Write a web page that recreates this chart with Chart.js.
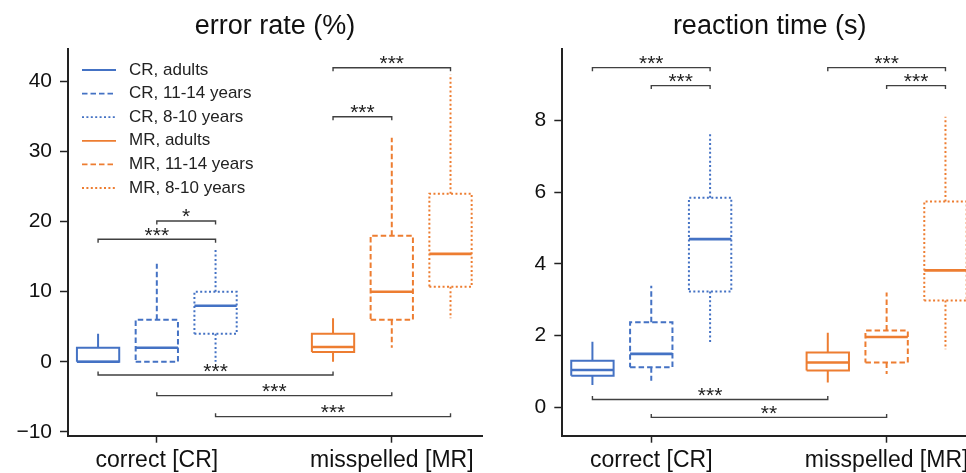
<!DOCTYPE html>
<html>
<head>
<meta charset="utf-8">
<script src="https://cdn.jsdelivr.net/npm/chart.js@4.4.1/dist/chart.umd.min.js"></script>
<style>
  html, body { margin: 0; padding: 0; background: #fff; overflow: hidden; }
  body { width: 966px; height: 473px; position: relative; }
  canvas { position: absolute; top: 0; }
  #errChart { left: 0; }
  #rtChart { left: 483px; }
</style>
</head>
<body>
<canvas id="errChart" width="483" height="473"></canvas>
<canvas id="rtChart" width="495" height="473"></canvas>
<script>
// categories and groups (3 age groups per category)
const categories = ["correct [CR]", "misspelled [MR]"];
const groupLabels = ["CR, adults", "CR, 11-14 years", "CR, 8-10 years", "MR, adults", "MR, 11-14 years", "MR, 8-10 years"];

// error rate (%) box stats
const errMin = [0, 0, 0, 0, 2, 6.2];
const errQ1 = [0, 0, 4, 1.4, 6, 10.7];
const errMedian = [0, 2, 8, 2.1, 10, 15.4];
const errQ3 = [2, 6, 10, 4, 18, 24];
const errMax = [4, 14, 16, 6.2, 32, 41];
const errTicks = [-10, 0, 10, 20, 30, 40];

// reaction time (s) box stats
const rtMin = [0.62, 0.74, 1.79, 0.69, 0.93, 1.62];
const rtQ1 = [0.88, 1.12, 3.23, 1.03, 1.25, 2.98];
const rtMedian = [1.04, 1.49, 4.69, 1.25, 1.96, 3.82];
const rtQ3 = [1.3, 2.37, 5.84, 1.53, 2.14, 5.74];
const rtMax = [1.83, 3.39, 7.67, 2.08, 3.2, 8.1];
const rtTicks = [0, 2, 4, 6, 8];

// significance brackets: compared groups, stars, bracket value
const errPairs = [[3, 5], [3, 4], [1, 2], [0, 2], [0, 3], [1, 4], [2, 5]];
const errStars = ["***", "***", "*", "***", "***", "***", "***"];
const errLevels = [42, 35, 20.1, 17.5, -1.9, -4.85, -7.85];
const rtPairs = [[0, 2], [1, 2], [3, 5], [4, 5], [0, 3], [1, 4]];
const rtStars = ["***", "***", "***", "***", "***", "**"];
const rtLevels = [9.47, 8.97, 9.47, 8.97, 0.22, -0.28];

const FONT = "'Liberation Sans', Arial, sans-serif";
const BLUE = "#4472c4";
const ORANGE = "#ed7d31";
const DASHES = [[], [5.5, 3], [2, 2.4]];
const HALF_BOX = 0.09;

// x position of a group: category centre +- offset per age group
function groupX(g) {
  return Math.floor(g / 3) + ((g % 3) - 1) * 0.25;
}

// Box outline, whiskers and median as line datasets
function buildDatasets(mins, q1s, meds, q3s, maxs) {
  const sets = [];
  groupLabels.forEach((label, g) => {
    const c = groupX(g);
    const color = g < 3 ? BLUE : ORANGE;
    const dash = DASHES[g % 3];
    const common = {
      showLine: true, pointRadius: 0, borderColor: color, backgroundColor: color,
      borderCapStyle: "butt", borderJoinStyle: "miter", tension: 0, fill: false, spanGaps: false,
    };
    sets.push({
      ...common, label: label, isBox: true, borderWidth: 2, borderDash: dash,
      data: [
        { x: c - HALF_BOX, y: q1s[g] }, { x: c + HALF_BOX, y: q1s[g] },
        { x: c + HALF_BOX, y: q3s[g] }, { x: c - HALF_BOX, y: q3s[g] },
        { x: c - HALF_BOX, y: q1s[g] },
      ],
    });
    sets.push({
      ...common, borderWidth: 2, borderDash: dash,
      data: [
        { x: c, y: q3s[g] }, { x: c, y: maxs[g] }, { x: c, y: null },
        { x: c, y: q1s[g] }, { x: c, y: mins[g] },
      ],
    });
    sets.push({
      ...common, borderWidth: 2.6,
      data: [{ x: c - HALF_BOX, y: meds[g] }, { x: c + HALF_BOX, y: meds[g] }],
    });
  });
  return sets;
}

// Brackets with stars, plus legend for the left panel
const annotatePlugin = {
  id: "annotate",
  afterDatasetsDraw(chart, args, opts) {
    const { ctx, scales: { x, y }, chartArea } = chart;
    ctx.save();
    ctx.lineWidth = 1.4;
    ctx.strokeStyle = "#404040";
    ctx.fillStyle = "#222";
    ctx.font = "21px " + FONT;
    ctx.textAlign = "center";
    ctx.textBaseline = "alphabetic";
    opts.pairs.forEach(([a, b], i) => {
      const xa = x.getPixelForValue(groupX(a));
      const xb = x.getPixelForValue(groupX(b));
      const yl = y.getPixelForValue(opts.levels[i]);
      const hook = opts.levels[i] < Math.min(opts.mins[a], opts.mins[b]) ? -3.5 : 3.5;
      ctx.beginPath();
      ctx.moveTo(xa, yl + hook);
      ctx.lineTo(xa, yl);
      ctx.lineTo(xb, yl);
      ctx.lineTo(xb, yl + hook);
      ctx.stroke();
      ctx.fillText(opts.stars[i], (xa + xb) / 2, yl + 2.5);
    });

    if (opts.legend) {
      const boxes = chart.data.datasets.filter((d) => d.isBox);
      ctx.font = "17px " + FONT;
      ctx.textAlign = "left";
      ctx.textBaseline = "middle";
      boxes.forEach((d, i) => {
        const ly = chartArea.top + 21 + i * 23.6;
        const lx = chartArea.left + 14;
        ctx.strokeStyle = d.borderColor;
        ctx.lineWidth = 1.8;
        ctx.setLineDash(d.borderDash || []);
        ctx.beginPath();
        ctx.moveTo(lx, ly);
        ctx.lineTo(lx + 34, ly);
        ctx.stroke();
        ctx.setLineDash([]);
        ctx.fillStyle = "#222";
        ctx.fillText(d.label, lx + 47, ly);
      });
    }
    ctx.restore();
  },
};

function makeChart(id, title, datasets, yMin, yMax, yTicks, yWidth, annotate) {
  const tickLabel = (v) => (v < 0 ? "\u2212" + Math.abs(v) : String(v));
  return new Chart(document.getElementById(id), {
    type: "scatter",
    data: { datasets: datasets },
    plugins: [annotatePlugin],
    options: {
      responsive: false,
      animation: false,
      events: [],
      layout: { padding: { top: 0, right: 1, bottom: 0, left: 0 } },
      scales: {
        x: {
          type: "linear",
          min: -0.378,
          max: 1.384,
          afterBuildTicks: (s) => { s.ticks = categories.map((c, i) => ({ value: i })); },
          afterFit: (s) => { s.height = 37.3; },
          ticks: {
            callback: (v) => categories[v],
            font: { family: FONT, size: 23 },
            color: "#111",
            padding: 4,
            maxRotation: 0,
            autoSkip: false,
          },
          grid: { display: true, drawOnChartArea: false, drawTicks: true, tickLength: 7, tickWidth: 1.5, tickColor: "#222" },
          border: { display: true, color: "#222", width: 2 },
        },
        y: {
          type: "linear",
          min: yMin,
          max: yMax,
          afterBuildTicks: (s) => { s.ticks = yTicks.map((v) => ({ value: v })); },
          afterFit: (s) => { s.width = yWidth; },
          ticks: {
            callback: tickLabel,
            font: { family: FONT, size: 21 },
            color: "#111",
            padding: 8,
          },
          grid: { display: true, drawOnChartArea: false, drawTicks: true, tickLength: 8, tickWidth: 1.5, tickColor: "#222" },
          border: { display: true, color: "#222", width: 2 },
        },
      },
      plugins: {
        legend: { display: false },
        tooltip: { enabled: false },
        title: {
          display: true,
          text: title,
          fullSize: false,
          color: "#111",
          font: { family: FONT, size: 27, weight: "normal" },
          padding: { top: 10, bottom: 6.6 },
        },
        annotate: annotate,
      },
    },
  });
}

makeChart("errChart", "error rate (%)",
  buildDatasets(errMin, errQ1, errMedian, errQ3, errMax),
  -10.57, 44.67, errTicks, 68,
  { pairs: errPairs, stars: errStars, levels: errLevels, mins: errMin, legend: true });

makeChart("rtChart", "reaction time (s)",
  buildDatasets(rtMin, rtQ1, rtMedian, rtQ3, rtMax),
  -0.79, 9.99, rtTicks, 79.3,
  { pairs: rtPairs, stars: rtStars, levels: rtLevels, mins: rtMin, legend: false });
</script>
</body>
</html>
